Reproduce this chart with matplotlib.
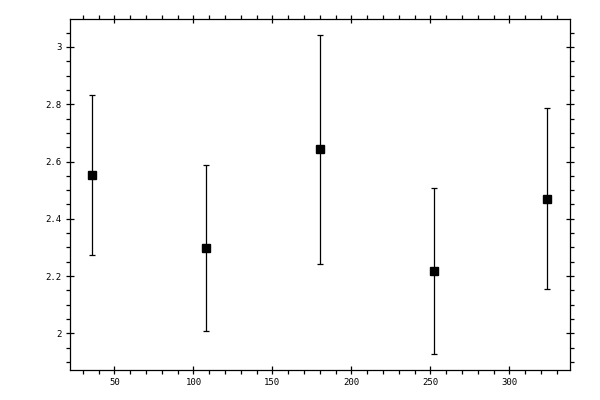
import matplotlib
matplotlib.use("Agg")
import matplotlib.pyplot as plt
from matplotlib.ticker import MultipleLocator

# values
x_vals = [36, 108, 180, 252, 324]
y_vals = [2.552, 2.298, 2.642, 2.2175, 2.470]
y_err = [0.28, 0.29, 0.40, 0.29, 0.317]

fig = plt.figure(figsize=(6, 4), dpi=100)
ax = fig.add_axes([0.116, 0.075, 0.834, 0.8775])

ax.errorbar(x_vals, y_vals, yerr=y_err, fmt="s", color="black",
            markersize=5.8, elinewidth=0.9, capsize=2.2, capthick=0.9)

ax.xaxis.set_major_locator(MultipleLocator(50))
ax.xaxis.set_minor_locator(MultipleLocator(10))
ax.yaxis.set_major_locator(MultipleLocator(0.2))
ax.yaxis.set_minor_locator(MultipleLocator(0.05))
ax.yaxis.set_major_formatter(plt.FuncFormatter(lambda v, p: "%g" % round(v, 2)))

ax.tick_params(which="both", top=True, right=True, width=0.9, colors="black",
               labelsize=6.5)
ax.tick_params(which="major", direction="inout", length=6, pad=3)
ax.tick_params(which="minor", direction="out", length=2.6)
for lab in ax.get_xticklabels() + ax.get_yticklabels():
    lab.set_family("DejaVu Sans Mono")

for s in ax.spines.values():
    s.set_linewidth(0.9)

fig.savefig("out.png", dpi=100)
